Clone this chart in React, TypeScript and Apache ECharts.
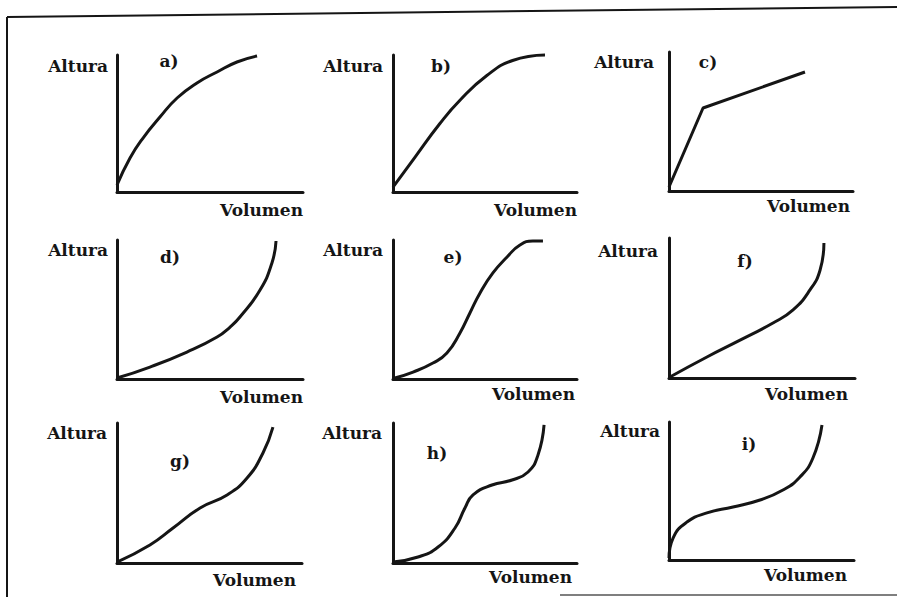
import React, { useEffect, useRef } from "react";
import * as echarts from "echarts";

// ---- Data (panel coordinates: volume 0..100, height 0..100) ----
const panelLabels = ["a)", "b)", "c)", "d)", "e)", "f)", "g)", "h)", "i)"];
const yAxisTitle = "Altura";
const xAxisTitle = "Volumen";

const curveA = [[0, 5.1], [7, 24.8], [14, 39.4], [23.1, 54.7], [32.3, 68.6], [43, 79.6], [53.8, 87.6], [64.5, 94.9], [75.3, 99.3]];
const curveB = [[0, 3.6], [12, 25.5], [25.5, 50], [36.4, 67], [51, 85], [65, 96], [82.6, 100]];
const curveC = [[0, 2.9], [18.5, 59.7], [73.9, 85.6]];
const curveD = [[0, 0.7], [17.7, 8.6], [37.6, 19.4], [53.8, 30.2], [60.8, 37.4], [66.1, 44.6], [76.9, 64], [83.3, 83.5], [85.5, 99.3]];
const curveE = [[0.5, 0.5], [10.9, 5], [21.7, 11.5], [29.3, 18.7], [36.4, 33.1], [41.8, 47.5], [47.3, 61.9], [54.3, 76.3], [62, 87.8], [69, 96.4], [76, 99.3], [81.5, 99.3]];
const curveF = [[0.5, 0.7], [20.4, 15], [38.2, 27], [55.9, 39.3], [66.7, 48.6], [75.8, 62.9], [81.2, 77], [83.3, 96.4]];
const curveG = [[0, 0.7], [17.8, 12.9], [30.3, 25], [44.9, 39.3], [59.5, 48.6], [70.3, 60.7], [78.9, 78.6], [84.3, 97.1]];
const curveH = [[0, 0.7], [13.6, 4.3], [24.5, 11.4], [33.7, 25], [39.1, 39.3], [43.5, 48.6], [53.8, 55.7], [64.7, 59.3], [73.4, 65], [78.8, 77.1], [82.1, 98.6]];
const curveI = [[0, 1.4], [2.2, 15.9], [9.7, 27.5], [20.5, 34.1], [34.6, 38.4], [49.2, 43.5], [61.6, 50.7], [70.8, 60.1], [77.8, 73.9], [82.7, 97.8]];

const curves = [curveA, curveB, curveC, curveD, curveE, curveF, curveG, curveH, curveI];
const smoothFlags = [true, true, false, true, true, true, true, true, true];

// ---- Layout (pixels) ----
const grids = [
  { left: 117, top: 55, width: 186, height: 137 },
  { left: 393, top: 55, width: 184, height: 137 },
  { left: 669, top: 52, width: 184, height: 139 },
  { left: 117, top: 240, width: 186, height: 139 },
  { left: 393, top: 240, width: 184, height: 139 },
  { left: 669, top: 238, width: 186, height: 140 },
  { left: 117, top: 423, width: 185, height: 140 },
  { left: 393, top: 423, width: 184, height: 140 },
  { left: 669, top: 422, width: 185, height: 138 },
];
// [rightX, centerY] for "Altura"
const yTitlePos = [
  [108, 66], [383, 66], [654, 62],
  [108, 250], [383, 250], [658, 251],
  [107, 433], [382, 433], [660, 431],
];
// [rightX, centerY] for "Volumen"
const xTitlePos = [
  [303, 210], [577, 210], [850, 206],
  [303, 397], [575, 394], [848, 394],
  [296, 580], [572, 577], [847, 575],
];
// [centerX, centerY] for panel labels
const labelPos = [
  [169, 61], [441, 66], [708, 62],
  [170, 257], [453, 257], [745, 261],
  [180, 461], [437, 453], [749, 444],
];

const INK = "#151515";
const FONT = 'bold 17px "DejaVu Serif", serif';

export default function App() {
  const ref = useRef<HTMLDivElement>(null);

  useEffect(() => {
    if (!ref.current) return;
    const chart = echarts.init(ref.current, undefined, { renderer: "svg" });

    const graphic: any[] = [];
    for (let k = 0; k < 9; k++) {
      graphic.push({
        type: "text",
        style: { text: yAxisTitle, x: yTitlePos[k][0], y: yTitlePos[k][1], font: FONT, fill: INK, textAlign: "right", textVerticalAlign: "middle" },
      });
      graphic.push({
        type: "text",
        style: { text: xAxisTitle, x: xTitlePos[k][0], y: xTitlePos[k][1], font: FONT, fill: INK, textAlign: "right", textVerticalAlign: "middle" },
      });
      graphic.push({
        type: "text",
        style: { text: panelLabels[k], x: labelPos[k][0], y: labelPos[k][1], font: FONT, fill: INK, textAlign: "center", textVerticalAlign: "middle" },
      });
    }
    // scanned page frame
    graphic.push({ type: "line", shape: { x1: 7, y1: 17, x2: 897, y2: 7 }, style: { stroke: INK, lineWidth: 2 } });
    graphic.push({ type: "line", shape: { x1: 7, y1: 17, x2: 7, y2: 597 }, style: { stroke: INK, lineWidth: 2 } });
    graphic.push({ type: "line", shape: { x1: 560, y1: 595, x2: 897, y2: 595 }, style: { stroke: "#555", lineWidth: 1.5 } });

    const axisCommon = {
      type: "value",
      min: 0,
      max: 100,
      axisLine: { show: true, onZero: false, lineStyle: { color: INK, width: 3 } },
      axisTick: { show: false },
      axisLabel: { show: false },
      splitLine: { show: false },
    };

    chart.setOption({
      animation: false,
      backgroundColor: "#ffffff",
      grid: grids.map((g) => ({ ...g, containLabel: false })),
      xAxis: grids.map((_, i) => ({ ...axisCommon, gridIndex: i })),
      yAxis: grids.map((_, i) => ({ ...axisCommon, gridIndex: i })),
      series: curves.map((c, i) => ({
        type: "line",
        xAxisIndex: i,
        yAxisIndex: i,
        data: c,
        smooth: smoothFlags[i] ? 0.5 : false,
        symbol: "none",
        clip: false,
        lineStyle: { color: INK, width: 3 },
      })),
      graphic,
    });

    return () => chart.dispose();
  }, []);

  return (
    <div
      ref={ref}
      style={{ position: "fixed", left: 0, top: 0, width: 897, height: 597, background: "#fff" }}
    />
  );
}
